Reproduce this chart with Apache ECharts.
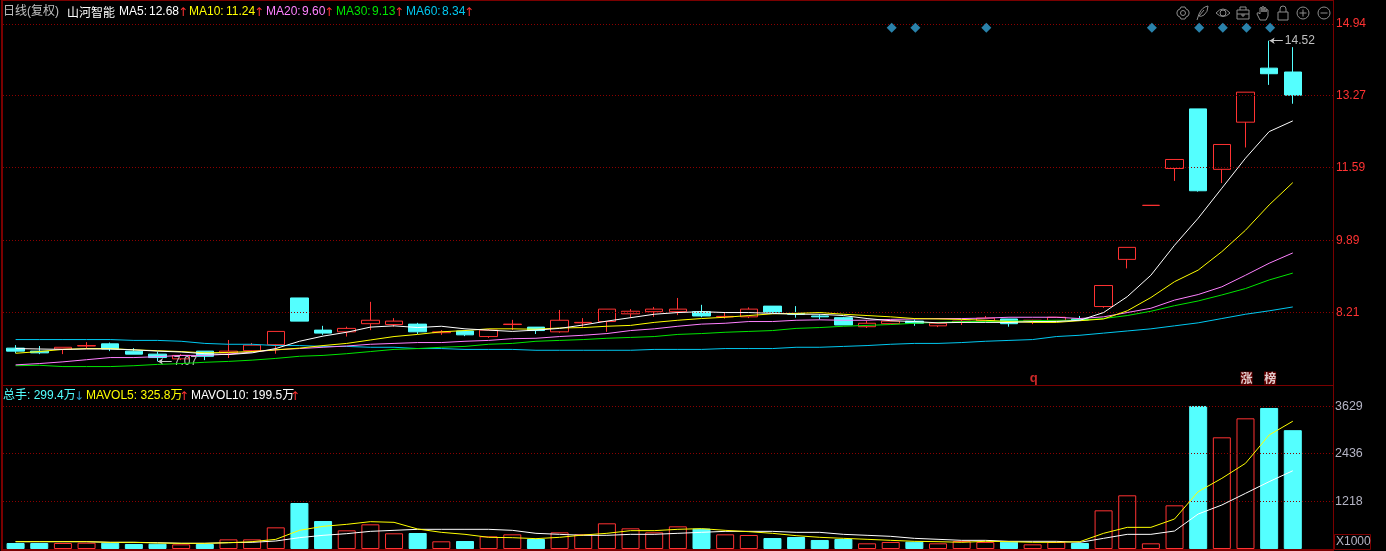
<!DOCTYPE html>
<html><head><meta charset="utf-8">
<style>html,body{margin:0;padding:0;background:#000;overflow:hidden}#c{width:1386px;height:551px}</style>
<script src="https://cdn.jsdelivr.net/npm/echarts@6/dist/echarts.min.js"></script>
</head><body><div id="c"></div>
<script>
const opens=[7.38,7.31,7.36,7.43,7.48,7.31,7.24,7.13,7.31,7.27,7.32,7.46,8.55,7.80,7.76,7.95,7.93,7.94,7.74,7.78,7.65,7.93,7.87,7.76,7.97,8.00,8.18,8.23,8.23,8.23,8.11,8.11,8.36,8.19,8.13,8.09,7.88,7.95,8.01,7.90,7.98,8.02,8.06,8.02,8.02,8.06,8.35,9.45,10.71,11.57,12.96,11.55,12.65,13.91,13.82];
const closes=[7.31,7.27,7.40,7.44,7.36,7.24,7.16,7.21,7.19,7.31,7.45,7.77,8.01,7.73,7.84,8.03,8.01,7.76,7.76,7.69,7.80,7.94,7.79,8.03,7.98,8.29,8.24,8.29,8.29,8.13,8.12,8.29,8.22,8.17,8.11,7.92,7.96,8.01,7.96,7.96,8.01,8.08,7.95,8.03,8.10,8.04,8.84,9.73,10.71,11.78,11.05,12.13,13.35,13.78,13.28];
const lows=[7.26,7.24,7.24,7.37,7.31,7.24,7.07,7.10,7.10,7.15,7.31,7.25,8.01,7.69,7.65,7.80,7.88,7.71,7.69,7.66,7.62,7.80,7.71,7.74,7.88,7.76,8.08,8.11,8.15,8.10,8.07,8.08,8.19,8.09,8.05,7.92,7.85,7.94,7.90,7.87,7.92,8.00,7.88,7.94,8.02,8.02,8.32,9.24,10.71,11.28,11.03,11.23,12.06,13.52,13.08];
const highs=[7.45,7.43,7.40,7.52,7.51,7.38,7.30,7.24,7.31,7.57,7.50,7.77,8.55,7.90,7.88,8.46,8.08,7.97,7.80,7.78,7.83,8.04,7.87,8.27,8.08,8.29,8.29,8.34,8.55,8.39,8.21,8.33,8.36,8.36,8.17,8.11,8.02,8.04,8.05,7.96,8.04,8.13,8.06,8.04,8.10,8.13,8.84,9.73,10.71,11.78,12.96,12.13,13.35,14.55,14.40];
const ma5=[7.37,7.36,7.35,7.36,7.36,7.34,7.31,7.29,7.25,7.23,7.27,7.37,7.54,7.66,7.75,7.87,7.90,7.86,7.89,7.83,7.80,7.77,7.80,7.84,7.92,8.01,8.09,8.17,8.21,8.23,8.21,8.21,8.19,8.17,8.17,8.14,8.07,8.02,8.00,7.97,7.98,7.98,7.98,8.00,8.00,8.03,8.21,8.58,9.08,9.78,10.41,11.11,11.81,12.43,12.68];
const ma10=[7.26,7.30,7.35,7.37,7.37,7.34,7.32,7.30,7.27,7.28,7.30,7.34,7.38,7.44,7.49,7.57,7.65,7.70,7.76,7.79,7.83,7.83,7.82,7.85,7.86,7.89,7.91,7.98,8.03,8.07,8.10,8.14,8.18,8.19,8.21,8.17,8.14,8.11,8.07,8.06,8.05,8.03,8.00,7.98,7.98,8.02,8.06,8.25,8.56,8.93,9.20,9.63,10.13,10.72,11.24];
const ma20=[6.99,7.02,7.06,7.11,7.16,7.16,7.18,7.21,7.21,7.24,7.29,7.34,7.37,7.40,7.43,7.47,7.49,7.51,7.51,7.54,7.56,7.60,7.61,7.65,7.68,7.72,7.79,7.83,7.89,7.94,7.96,8.00,8.00,8.03,8.04,8.03,8.03,8.05,8.06,8.07,8.07,8.08,8.10,8.10,8.10,8.07,8.11,8.21,8.31,8.50,8.63,8.81,9.08,9.36,9.60];
const ma30=[6.97,6.98,6.95,6.95,6.95,6.97,7.00,7.02,7.05,7.07,7.10,7.14,7.19,7.21,7.25,7.30,7.35,7.37,7.40,7.42,7.47,7.49,7.54,7.56,7.58,7.61,7.63,7.65,7.70,7.72,7.75,7.77,7.79,7.84,7.86,7.89,7.91,7.93,7.96,7.98,8.00,8.00,8.01,8.02,8.03,8.03,8.07,8.14,8.24,8.37,8.48,8.62,8.77,8.97,9.13];
const ma60=[7.58,7.58,7.58,7.58,7.58,7.56,7.56,7.54,7.49,7.47,7.47,7.44,7.44,7.42,7.42,7.40,7.40,7.37,7.37,7.35,7.35,7.35,7.33,7.33,7.33,7.33,7.33,7.35,7.35,7.35,7.37,7.37,7.37,7.40,7.40,7.42,7.44,7.47,7.49,7.49,7.51,7.54,7.56,7.58,7.65,7.68,7.73,7.78,7.83,7.90,7.97,8.07,8.17,8.25,8.34];
const volumes=[153,153,153,160,160,128,136,119,128,246,246,552,1173,714,476,629,400,408,196,204,323,374,255,425,374,655,527,425,578,519,374,357,280,306,230,255,145,179,187,145,204,179,187,119,179,153,986,1369,145,1114,3647,2848,3332,3596,3030];
const mavol5=[187,187,187,187,170,170,153,145,145,160,187,246,476,578,629,697,680,510,425,374,298,289,264,298,357,400,468,468,502,519,476,442,400,340,298,272,247,221,196,187,170,196,187,170,170,187,400,552,552,765,1462,1802,2185,2907,3258];
const mavol10=[187,187,187,187,170,170,162,145,145,162,170,204,289,349,391,450,476,502,502,502,502,476,400,374,349,349,374,374,400,425,450,450,450,425,425,374,349,323,272,247,221,221,196,196,196,170,272,374,374,459,892,1122,1419,1717,1995];
const priceTicks=[8.21,9.89,11.59,13.27,14.94];
const volumeTicks=[1218,2436,3629];
const diamondIdx=[37,38,41,48,50,51,52,53];
const diamondLevel=14.85;
const maLabels=[['MA5: ','12.68','#ffffff',119,149,180],['MA10: ','11.24','#ffff00',189,226,256],['MA20: ','9.60','#ff80ff',266,302,326],['MA30: ','9.13','#00e600',336,372,396],['MA60: ','8.34','#00c8f0',406,442,466]];

const FONT='"Liberation Sans","Noto Sans CJK SC",sans-serif';
const UP='#ff3232',DOWN='#54ffff',GRIDC='#8c0000',FRAME='#7a0000';
const idx=opens.map((_,i)=>i);
const pts=a=>a.map((v,i)=>[i,v]);
function lineSeries(name,data,color,xi,yi){return{name,type:'line',xAxisIndex:xi,yAxisIndex:yi,data:pts(data),showSymbol:false,symbol:'none',z:5,silent:true,lineStyle:{color,width:1},animation:false};}
function gridMark(xi,yi,ticks){return{type:'line',xAxisIndex:xi,yAxisIndex:yi,data:[],z:0,silent:true,markLine:{silent:true,symbol:'none',label:{show:false},animation:false,lineStyle:{color:GRIDC,type:[1,2],width:1},data:ticks.map(v=>({yAxis:v}))}};}
function arrowMark(x0,x1,y,text){return{type:'line',xAxisIndex:0,yAxisIndex:0,data:[],z:1,silent:true,markLine:{silent:true,symbol:['arrow','none'],symbolSize:5,animation:false,lineStyle:{color:'#c8c8c8',type:'solid',width:1},
 label:{show:true,position:'end',formatter:text,color:'#c0c0c0',fontFamily:FONT,fontSize:12,distance:2},data:[[{coord:[x0,y]},{coord:[x1,y]}]]}};}
function badge(i,lvl,text,style){return{type:'scatter',xAxisIndex:0,yAxisIndex:0,symbolSize:0,z:6,silent:true,data:[[i,lvl]],label:Object.assign({show:true,position:'inside',offset:[1,0],formatter:text,fontFamily:'"Noto Sans CJK SC"',fontSize:12},style)};}

function txt(x,y,t,fill,extra){return Object.assign({type:'text',x,y,silent:true,style:Object.assign({text:t,fill,font:'12px '+FONT,verticalAlign:'middle'},extra||{})});}
const ARROW={font:'12px "DejaVu Sans"'};
const graphics=[
 {type:'rect',silent:true,shape:{x:1,y:0,width:2,height:551},style:{fill:FRAME}},
 {type:'rect',silent:true,shape:{x:1,y:0,width:1332,height:1},style:{fill:FRAME}},
 {type:'rect',silent:true,shape:{x:1,y:385,width:1332,height:1},style:{fill:FRAME}},
 {type:'rect',silent:true,shape:{x:1,y:549,width:1332,height:2},style:{fill:FRAME}},
 {type:'rect',silent:true,shape:{x:1333,y:0,width:1,height:551},style:{fill:FRAME}},
 {type:'rect',silent:true,shape:{x:1334.5,y:534.5,width:36,height:15},style:{fill:'none',stroke:FRAME,lineWidth:1}},
 txt(1336,542,'X1000','#b4b4c4'),
 txt(3,12,'日线(复权)','#c0c0c0'),
 txt(67,12,'山河智能','#ffffff',{font:'12px "Noto Sans CJK SC"'}),
 txt(3,396,'总手: 299.4万','#54ffff'),
 txt(74,397,'↓','#2e9ccc',ARROW),
 txt(86,396,'MAVOL5: 325.8万','#ffff00'),
 txt(179,397,'↑',UP,ARROW),
 txt(191,396,'MAVOL10: 199.5万','#ffffff'),
 txt(290,397,'↑',UP,ARROW)
];
maLabels.forEach(m=>{graphics.push(txt(m[3],12,m[0],m[2]),txt(m[4],12,m[1],m[2]),txt(m[5]-2,13,'↑',UP,ARROW));});
const ic={fill:'none',stroke:'#8c8c8c',lineWidth:1};
[
 [1183,'M-2,-6 L2,-6 L3,-4 L5,-3 L6,-1 L6,1 L5,3 L3,4 L2,6 L-2,6 L-3,4 L-5,3 L-6,1 L-6,-1 L-5,-3 L-3,-4 Z M2.5,0 A2.5,2.5 0 1 1 -2.5,0 A2.5,2.5 0 1 1 2.5,0 Z'],
 [1202,'M-5,7 L-3,1 Q0,-6 6,-7 Q6,-1 2,2 Q-1,4 -3,3 M-3,3 L2,-3'],
 [1223,'M-7,0 Q0,-8 7,0 Q0,7 -7,0 Z M3,0 A3,3 0 1 1 -3,0 A3,3 0 1 1 3,0 Z'],
 [1243,'M-6,-3 L6,-3 L6,6 L-6,6 Z M-3,-3 L-3,-6 L3,-6 L3,-3 M-6,1 L6,1 M-1,1 L-1,3 L1,3 L1,1'],
 [1263,'M-3,7 L-6,1 Q-6,-1 -4,0 L-3,1 L-3,-5 Q-2,-6 -1,-5 L-1,-1 L-1,-6 Q0,-7 1,-6 L1,-1 L1,-5 Q2,-6 3,-5 L3,-1 L3,-3 Q4,-4 5,-3 L5,3 L3,7 Z'],
 [1283,'M-5,-1 L5,-1 L5,7 L-5,7 Z M-3,-1 L-3,-4 A3,3 0 0 1 3,-4 L3,-1'],
 [1303,'M6,0 A6,6 0 1 1 -6,0 A6,6 0 1 1 6,0 Z M-3.5,0 L3.5,0 M0,-3.5 L0,3.5'],
 [1324,'M6,0 A6,6 0 1 1 -6,0 A6,6 0 1 1 6,0 Z M-3.5,0 L3.5,0']
].forEach((d,k)=>{const name='tbIcon'+k;echarts.graphic.registerShape(name,echarts.graphic.extendPath(d[1],{}));graphics.push({type:name,x:d[0],y:13,silent:true,style:ic});});

const xBase={type:'value',min:-0.533,max:55.70,show:false,splitLine:{show:false}};
const option={
 animation:false,backgroundColor:'#000',
 textStyle:{fontFamily:FONT},
 grid:[{left:3,top:2,width:1330,height:383,containLabel:false},{left:3,top:385,width:1330,height:164}],
 xAxis:[Object.assign({gridIndex:0},xBase),Object.assign({gridIndex:1},xBase)],
 yAxis:[
  {gridIndex:0,type:'value',position:'right',min:6.52,max:15.453,splitLine:{show:false},axisLine:{show:false},axisTick:{show:false},
   axisLabel:{customValues:priceTicks,formatter:v=>v.toFixed(2),color:UP,fontSize:12,fontFamily:FONT,margin:3}},
  {gridIndex:1,type:'value',position:'right',min:0,max:4182,splitLine:{show:false},axisLine:{show:false},axisTick:{show:false},
   axisLabel:{customValues:volumeTicks,formatter:v=>String(v),color:'#b4b4c4',fontSize:12.5,fontFamily:FONT,margin:2}}
 ],
 graphic:graphics,
 series:[
  gridMark(0,0,priceTicks),
  gridMark(1,1,volumeTicks),
  arrowMark(53.02,53.58,14.55,'14.52'),
  arrowMark(6.02,6.6,7.07,'7.07'),
  {type:'candlestick',xAxisIndex:0,yAxisIndex:0,barWidth:18,z:3,silent:true,
   data:idx.map(i=>[i,opens[i],closes[i],lows[i],highs[i]]),encode:{x:0,y:[1,2,3,4]},
   itemStyle:{color:'#000',color0:DOWN,borderColor:UP,borderColor0:DOWN,borderColorDoji:UP,borderWidth:1}},
  {type:'scatter',xAxisIndex:0,yAxisIndex:0,symbol:'diamond',symbolSize:10,symbolOffset:[1,0],z:6,silent:true,data:diamondIdx.map(i=>[i,diamondLevel]),itemStyle:{color:'#33a3d6'}},
  lineSeries('MA60',ma60,'#00c8f0',0,0),
  lineSeries('MA30',ma30,'#00e600',0,0),
  lineSeries('MA20',ma20,'#ff80ff',0,0),
  lineSeries('MA10',ma10,'#ffff00',0,0),
  lineSeries('MA5',ma5,'#ffffff',0,0),
  badge(43,6.68,'q',{color:UP,fontFamily:FONT,fontWeight:'bold',fontSize:13}),
  badge(52,6.68,'涨',{color:'#fff',fontWeight:'bold',backgroundColor:'#7a0000',padding:[1,0,0,0]}),
  badge(53,6.68,'榜',{color:'#fff',fontWeight:'bold',backgroundColor:'#7a0000',padding:[1,0,0,0]}),
  {type:'bar',xAxisIndex:1,yAxisIndex:1,barWidth:18,z:3,silent:true,
   data:idx.map(i=>{const up=closes[i]>=opens[i];return{value:[i,volumes[i]],itemStyle:{color:up?'#000':DOWN,borderColor:up?UP:DOWN,borderWidth:1}};})},
  lineSeries('MAVOL10',mavol10,'#ffffff',1,1),
  lineSeries('MAVOL5',mavol5,'#ffff00',1,1)
 ]
};
echarts.init(document.getElementById('c')).setOption(option);
</script></body></html>
